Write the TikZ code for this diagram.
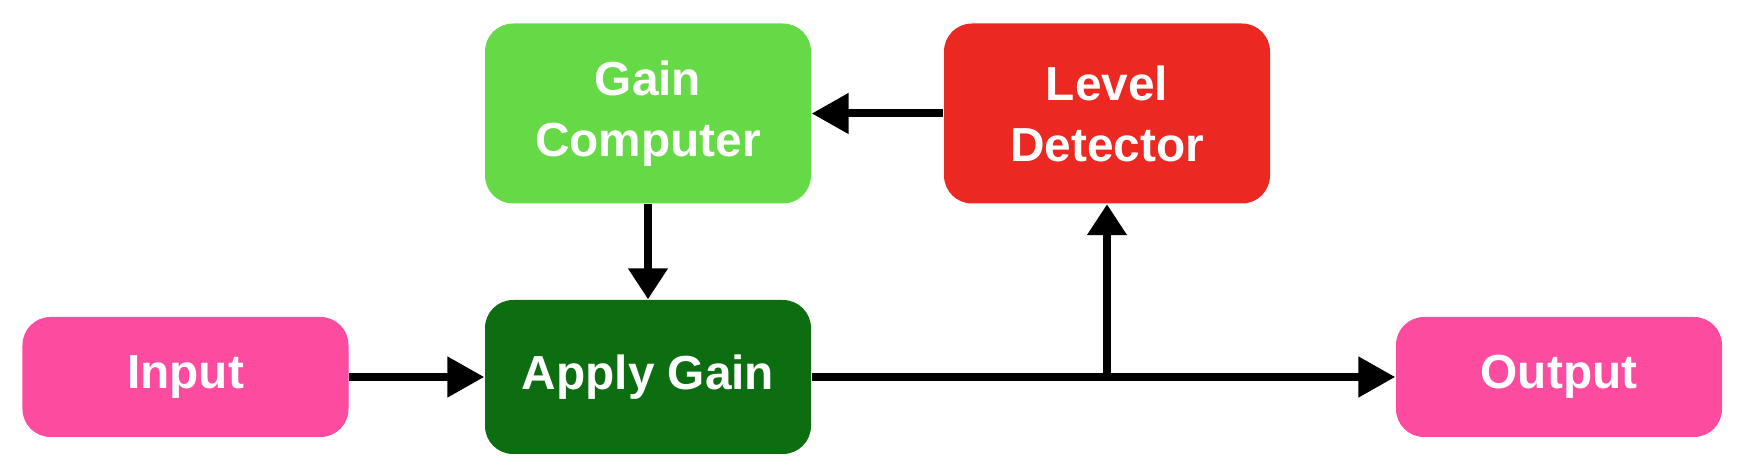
\documentclass[tikz,border=0pt]{standalone}
\usepackage{fontspec}
\setmainfont{Liberation Sans}
\usetikzlibrary{arrows.meta,positioning,calc}
\definecolor{lightgreen}{RGB}{102,217,70}
\definecolor{darkgreen}{RGB}{13,110,17}
\definecolor{detred}{RGB}{236,40,34}
\definecolor{iopink}{RGB}{253,75,160}
\tikzset{
  blk/.style={rounded corners=0.28cm,align=center,inner sep=0pt,minimum width=3.26cm,
    text=white,font=\fontsize{13.6}{17.4}\selectfont\bfseries},
  iobox/.style={blk,fill=iopink,minimum height=1.2cm},
  gainbox/.style={blk,fill=lightgreen,minimum height=1.8cm},
  detbox/.style={blk,fill=detred,minimum height=1.8cm},
  applybox/.style={blk,fill=darkgreen,minimum height=1.54cm},
  hsig/.style={-{Triangle[length=0.37cm,width=0.39cm]},line width=0.08cm,draw=black},
  vsig/.style={-{Triangle[length=0.31cm,width=0.38cm]},line width=0.08cm,draw=black}
}
\begin{document}
\begin{tikzpicture}[x=1cm,y=1cm]
  \useasboundingbox (0,0) rectangle (17.48,-4.68);
  % signal path
  \node[iobox] (in) at (1.855,-3.77) {Input};
  \node[applybox] (apply) at (6.48,-3.77) {Apply Gain};
  \node[iobox] (out) at (15.59,-3.77) {Output};

  % side chain
  \node[gainbox] (gc) at (6.48,-1.135) {Gain\\Computer};
  \node[detbox] (det) at (11.07,-1.135) {Level\\Detector};

  \draw[hsig] (in.east) -- (apply.west);
  \draw[hsig] (apply.east) -- (out.west);
  \coordinate (tap) at (det.south |- apply.east);
  \draw[vsig] (tap) -- (det.south);
  \draw[hsig] (det.west) -- (gc.east);
  \draw[vsig] (gc.south) -- (apply.north);
\end{tikzpicture}
\end{document}
